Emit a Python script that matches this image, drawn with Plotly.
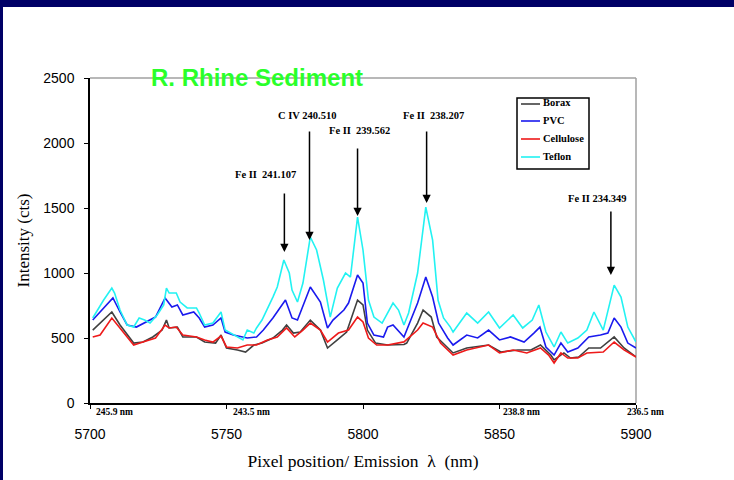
import plotly.graph_objects as go

# ---------------- data ----------------
teflon_x = [5701, 5705, 5708, 5709, 5711, 5713.6, 5716, 5718, 5720, 5722, 5724.6, 5727, 5728, 5729,
            5731.6, 5733, 5735.6, 5739, 5740, 5742, 5745, 5748, 5749.5, 5752.5, 5756, 5757.6, 5760,
            5761, 5763, 5767, 5768.6, 5771, 5773, 5774, 5776, 5778, 5780.7, 5783, 5785.5, 5788,
            5790.6, 5793.6, 5795.4, 5798, 5800, 5802, 5804, 5807, 5809, 5811, 5813, 5815, 5816.7,
            5820, 5823, 5825.5, 5827.5, 5829.5, 5832, 5833, 5838, 5842, 5846, 5850, 5855, 5858.5,
            5862, 5864.4, 5867, 5870, 5872.5, 5875, 5878.7, 5882, 5884.6, 5888, 5892, 5894.5, 5897, 5900]
teflon_y = [654, 792, 884, 846, 715, 600, 585, 654, 638, 615, 677, 754, 884, 846,
            846, 777, 731, 731, 692, 600, 615, 700, 561, 523, 485, 561, 538,
            577, 638, 815, 892, 1100, 1000, 869, 777, 923, 1277, 1177, 946, 661,
            884, 1000, 969, 1430, 1177, 792, 661, 615, 692, 769, 715, 600, 692,
            1000, 1507, 1253, 790, 654, 584, 546, 692, 615, 700, 577, 677, 577,
            638, 754, 546, 431, 546, 461, 500, 561, 700, 561, 907, 815, 584, 469]

pvc_x = [5701, 5705, 5708.4, 5711, 5713.6, 5717, 5720, 5724, 5727.5, 5730, 5732, 5734, 5738, 5740,
         5742, 5745, 5748, 5749.5, 5752.5, 5757.6, 5761, 5763.5, 5767, 5771.6, 5774, 5776, 5780.7,
         5784.4, 5787, 5789, 5793, 5794.7, 5798, 5800, 5801.6, 5804, 5807.5, 5809, 5811, 5815,
         5820, 5823, 5825.5, 5827.7, 5831, 5833, 5838, 5842, 5846, 5850, 5854, 5859, 5862.6,
         5864.8, 5867, 5870, 5872.5, 5875, 5878.7, 5882.7, 5887, 5889.7, 5892, 5894.5, 5897, 5900]
pvc_y = [638, 731, 808, 700, 600, 584, 615, 661, 808, 738, 754, 677, 700, 654,
         584, 600, 654, 546, 523, 500, 508, 561, 654, 792, 654, 638, 892,
         777, 577, 638, 715, 769, 985, 923, 615, 523, 508, 584, 600, 508,
         769, 969, 815, 615, 500, 446, 523, 500, 561, 485, 508, 469, 538,
         584, 431, 369, 461, 392, 423, 508, 523, 538, 654, 584, 461, 423]

borax_x = [5701, 5705, 5708, 5711, 5716, 5719.4, 5723, 5726.4, 5728, 5729, 5732, 5734, 5739, 5742,
           5746, 5748, 5750, 5754, 5757, 5760, 5763, 5767, 5770.5, 5772, 5774.5, 5777, 5780.7,
           5784.4, 5787, 5790.6, 5794, 5798, 5800, 5801.6, 5804.6, 5809, 5815, 5816, 5820, 5822,
           5825, 5827, 5831, 5833, 5838, 5846, 5850.5, 5856.7, 5861.5, 5865, 5868.8, 5870, 5873.6,
           5876, 5879, 5882.7, 5887, 5892, 5895.6, 5900]
borax_y = [561, 638, 700, 600, 461, 469, 508, 561, 638, 577, 584, 508, 508, 469,
           461, 523, 423, 408, 392, 446, 461, 500, 561, 600, 538, 546, 638,
           561, 423, 485, 546, 792, 754, 561, 461, 446, 450, 461, 615, 715,
           661, 508, 423, 385, 423, 446, 392, 408, 408, 446, 369, 331, 385,
           346, 354, 423, 423, 508, 423, 354]

cellulose_x = [5701, 5703.7, 5708, 5711, 5716, 5719.4, 5724, 5727.5, 5729, 5731.6, 5734, 5739, 5742,
               5745, 5748, 5750, 5754, 5757.6, 5761, 5765, 5768.6, 5772, 5775, 5778, 5780.7, 5784.4,
               5787, 5791, 5794.7, 5798, 5800, 5802, 5805, 5809, 5815, 5820, 5822, 5825.5, 5828.4,
               5833, 5838, 5846, 5850, 5855, 5860, 5865, 5868, 5870, 5872.5, 5875, 5878.7, 5882,
               5888, 5892, 5895.6, 5900]
cellulose_y = [508, 523, 654, 577, 446, 469, 500, 600, 577, 584, 523, 508, 485,
               469, 515, 431, 423, 446, 446, 485, 508, 577, 508, 561, 615, 561,
               469, 538, 561, 661, 623, 500, 446, 446, 470, 561, 615, 584, 461,
               369, 408, 446, 385, 408, 385, 423, 369, 308, 385, 346, 346, 385,
               392, 469, 408, 354]

series_names = ["Borax", "PVC", "Cellulose", "Teflon"]

peak_labels = ["Fe II  241.107", "C IV 240.510", "Fe II  239.562", "Fe II  238.207", "Fe II 234.349"]
peak_x = [5771.2, 5780.4, 5798.0, 5823.3, 5890.8]
peak_tip = [1161, 1253, 1438, 1538, 984]

nm_labels = ["245.9 nm", "243.5 nm", "238.8 nm", "236.5 nm"]

x_ticks = [5700, 5750, 5800, 5850, 5900]
y_ticks = [0, 500, 1000, 1500, 2000, 2500]

# ---------------- styles / positions ----------------
colors = ["#404040", "#1a1aee", "#ee1a1a", "#22f2f2"]
serif = "Liberation Serif"
sans = "Liberation Sans"

PL, PW, PT, PH = 90, 546, 78, 325      # plot area in pixels


def px_x(p):
    return (p - PL) / PW


def px_y(p):
    return (PT + PH - p) / PH


arrow_tail = [1623, 2100, 1969, 2100, 1484]
label_pos = [(5764.2, 1760), (5779.6, 2215), (5798.8, 2095), (5825.9, 2210), (5886.0, 1570)]
nm_pos = [5701.3, 5751.8, 5850.6, 5896.0]

fig = go.Figure()
xs = [borax_x, pvc_x, cellulose_x, teflon_x]
ys = [borax_y, pvc_y, cellulose_y, teflon_y]
for name, x, y, c in zip(series_names, xs, ys, colors):
    fig.add_trace(go.Scatter(x=x, y=y, name=name, mode="lines", showlegend=False,
                             line=dict(color=c, width=1.6)))

ann = []
# title
ann.append(dict(text="<b>R. Rhine Sediment</b>", xref="paper", yref="paper",
                x=px_x(149), y=px_y(77), xanchor="left", yanchor="middle",
                showarrow=False, font=dict(family=sans, size=24, color="#2aff2a")))
# arrows
for px, tip, tail in zip(peak_x, peak_tip, arrow_tail):
    ann.append(dict(text="", x=px, y=tip, xref="x", yref="y", ax=px, ay=tail,
                    axref="x", ayref="y", showarrow=True, arrowhead=2, arrowsize=1.1,
                    arrowwidth=1.5, arrowcolor="black"))
# peak labels
for t, (lx, ly) in zip(peak_labels, label_pos):
    ann.append(dict(text="<b>" + t + "</b>", x=lx, y=ly, xref="x", yref="y", showarrow=False,
                    xanchor="center", yanchor="middle",
                    font=dict(family=serif, size=10.5, color="black")))
# nm labels
for t, nx in zip(nm_labels, nm_pos):
    ann.append(dict(text="<b>" + t + "</b>", x=nx, y=-0.006, xref="x", yref="paper",
                    showarrow=False, xanchor="left", yanchor="top",
                    font=dict(family=serif, size=9.5, color="black")))

shapes = [
    # slide frame (navy)
    dict(type="rect", xref="paper", yref="paper", x0=-0.2, x1=1.3, y0=px_y(7), y1=1.3,
         fillcolor="#000066", line=dict(width=0), layer="above"),
    dict(type="rect", xref="paper", yref="paper", x0=-0.2, x1=px_x(3), y0=-0.3, y1=1.3,
         fillcolor="#000066", line=dict(width=0), layer="above"),
    # gray plot border top/right
    dict(type="line", xref="paper", yref="paper", x0=0, x1=1, y0=1, y1=1,
         line=dict(color="#a0a0a0", width=1.5), layer="below"),
    dict(type="line", xref="paper", yref="paper", x0=1, x1=1, y0=0, y1=1,
         line=dict(color="#a0a0a0", width=1.5), layer="below"),
    # legend box
    dict(type="rect", xref="paper", yref="paper", x0=px_x(517), x1=px_x(589),
         y0=px_y(169), y1=px_y(98), fillcolor="white",
         line=dict(color="black", width=1.5), layer="above"),
]

# legend entries (drawn from the series names and colours)
leg_rows = [104, 121, 139, 157]
for name, c, row in zip(series_names, colors, leg_rows):
    shapes.append(dict(type="line", xref="paper", yref="paper", x0=px_x(521), x1=px_x(540),
                       y0=px_y(row), y1=px_y(row), line=dict(color=c, width=1.6),
                       layer="above"))
    ann.append(dict(text="<b>" + name + "</b>", xref="paper", yref="paper", x=px_x(540.5),
                    y=px_y(row - 1), xanchor="left", yanchor="middle", showarrow=False,
                    font=dict(family=serif, size=10.5, color="black")))

fig.update_layout(
    width=734, height=480,
    margin=dict(l=PL, r=734 - PL - PW, t=PT, b=480 - PT - PH),
    paper_bgcolor="white", plot_bgcolor="white",
    showlegend=False,
    annotations=ann,
    shapes=shapes,
    xaxis=dict(range=[5700, 5900], tickvals=x_ticks, ticks="outside", ticklen=4,
               tickcolor="black", showgrid=False, zeroline=False, showline=True,
               linecolor="black", linewidth=1.5, ticklabelstandoff=13,
               tickfont=dict(family=sans, size=14, color="black"),
               title=dict(text="Pixel position/ Emission  λ  (nm)", standoff=14,
                          font=dict(family=serif, size=17.5, color="black"))),
    yaxis=dict(range=[0, 2500], tickvals=y_ticks, ticks="outside", ticklen=4,
               tickcolor="black", showgrid=False, zeroline=False, showline=True,
               linecolor="black", linewidth=1.5, ticklabelstandoff=7,
               tickfont=dict(family=sans, size=14, color="black"),
               title=dict(text="Intensity (cts)", standoff=9,
                          font=dict(family=serif, size=17, color="black"))),
)

fig.write_html("out.html")
